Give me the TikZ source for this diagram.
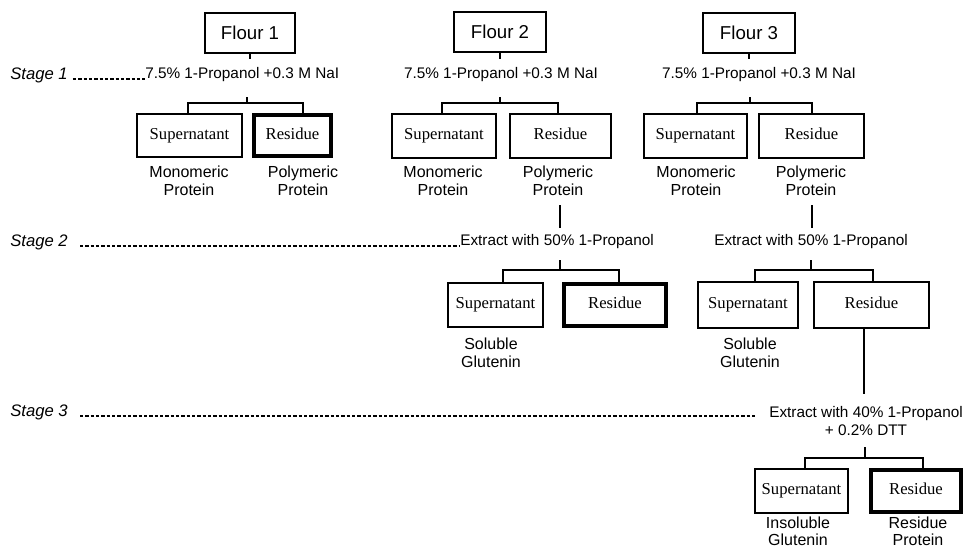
\documentclass[tikz,border=0pt]{standalone}
\usepackage{fontspec}
\setmainfont{Liberation Serif}
\setsansfont{Liberation Sans}
\usetikzlibrary{fit,calc}
\begin{document}
\begin{tikzpicture}[x=0.75pt,y=-0.75pt,
 box/.style={draw, line width=0.9pt, inner sep=0pt},
 thickbox/.style={box, line width=3pt},
 boxtxt/.style={font=\rmfamily\fontsize{12.5}{14}\selectfont, inner sep=0pt, text height=8.5pt, text depth=2.7pt},
 flourtxt/.style={font=\sffamily\fontsize{14}{16}\selectfont, inner sep=0pt, text height=10pt, text depth=0pt},
 proc/.style={font=\sffamily\fontsize{11.5}{13.5}\selectfont, inner sep=0pt, align=center},
 lab/.style={font=\sffamily\fontsize{12}{13.5}\selectfont, align=center, inner sep=0pt},
 stagelab/.style={font=\sffamily\itshape\fontsize{12.5}{14}\selectfont, anchor=west, inner sep=0pt},
 conn/.style={line width=1pt},
 dashline/.style={line width=1pt, dash pattern=on 2.5pt off 1.5pt}]
\useasboundingbox[fill=white] (0,0) rectangle (969,551);

% ---------- flours ----------
\node[box, fit={(205,13)(295,53)}, label={[flourtxt]center:Flour 1}] (f1) {};
\node[box, fit={(454,12)(546,52)}, label={[flourtxt]center:Flour 2}] (f2) {};
\node[box, fit={(703,13)(795,53)}, label={[flourtxt]center:Flour 3}] (f3) {};

% ---------- stage labels ----------
\node[stagelab] (st1) at (10,75) {Stage 1};
\node[stagelab] (st2) at (10,242) {Stage 2};
\node[stagelab] (st3) at (10,412) {Stage 3};

% ---------- stage texts ----------
\node[proc, anchor=west] (e1) at (145,75) {7.5\% 1-Propanol +0.3 M NaI};
\node[proc] (e2) at (501,75) {7.5\% 1-Propanol +0.3 M NaI};
\node[proc] (e3) at (759,75) {7.5\% 1-Propanol +0.3 M NaI};
\node[proc] (e4) at (557,242) {Extract with 50\% 1-Propanol};
\node[proc] (e5) at (811,242) {Extract with 50\% 1-Propanol};
\node[proc] (e6) at (866,421) {Extract with 40\% 1-Propanol\\+ 0.2\% DTT};

% dashed leaders
\draw[dashline] (st1.east) ++(5,4) coordinate (d1a) -- (d1a -| e1.west);
\draw[dashline] (80,246) coordinate (d2a) -- (d2a -| e4.west);
\draw[dashline] (80,416) coordinate (d3a) -- (757,416) coordinate (d3b);

% ---------- stage 1 boxes ----------
\node[box, fit={(137,114)(242,157)}, label={[boxtxt]center:Supernatant}] (s1) {};
\node[thickbox, fit={(254,115)(331,156)}, label={[boxtxt]center:Residue}] (r1) {};
\node[box, fit={(392,114)(496,158)}, label={[boxtxt]center:Supernatant}] (s2) {};
\node[box, fit={(510,114)(611,158)}, label={[boxtxt]center:Residue}] (r2) {};
\node[box, fit={(644,114)(747,158)}, label={[boxtxt]center:Supernatant}] (s3) {};
\node[box, fit={(759,114)(864,158)}, label={[boxtxt]center:Residue}] (r3) {};

\node[lab] (m1) at (189,181) {Monomeric\\Protein};
\node[lab] (p1) at (303,181) {Polymeric\\Protein};
\node[lab] (m2) at (443,181) {Monomeric\\Protein};
\node[lab] (p2) at (558,181) {Polymeric\\Protein};
\node[lab] (m3) at (696,181) {Monomeric\\Protein};
\node[lab] (p3) at (811,181) {Polymeric\\Protein};

% ---------- stage 2 boxes ----------
\node[box, fit={(448,283)(543,327)}, label={[boxtxt]center:Supernatant}] (s4) {};
\node[thickbox, fit={(564,284)(666,326)}, label={[boxtxt]center:Residue}] (r4) {};
\node[box, fit={(698,282)(798,328)}, label={[boxtxt]center:Supernatant}] (s5) {};
\node[box, fit={(814,282)(929,328)}, label={[boxtxt]center:Residue}] (r5) {};
\node[lab] (g4) at (491,353) {Soluble\\Glutenin};
\node[lab] (g5) at (750,353) {Soluble\\Glutenin};

% ---------- stage 3 boxes ----------
\node[box, fit={(755,469)(848,513)}, label={[boxtxt]center:Supernatant}] (s6) {};
\node[thickbox, fit={(871,470)(961,512)}, label={[boxtxt]center:Residue}] (r6) {};
\node[lab, font=\sffamily\fontsize{12}{12.5}\selectfont] (g6) at (798,531) {Insoluble\\Glutenin};
\node[lab, font=\sffamily\fontsize{12}{12.5}\selectfont] (g7) at (918,531) {Residue\\Protein};

% ---------- connectors ----------
\coordinate (f1t) at (250,59);
\coordinate (f2t) at (500,59);
\coordinate (f3t) at (749,59);
\draw[conn] (f1.south) -- (f1t);
\draw[conn] (f2.south) -- (f2t);
\draw[conn] (f3.south) -- (f3t);

% stage-1 brackets
\coordinate (k1) at (247,97);  \coordinate (bl1) at (188,103); \coordinate (br1) at (303,103);
\coordinate (k2) at (500,97);  \coordinate (bl2) at (442,103); \coordinate (br2) at (558,103);
\coordinate (k3) at (750,97);  \coordinate (bl3) at (697,103); \coordinate (br3) at (812,103);
\foreach \i/\s/\r in {1/s1/r1,2/s2/r2,3/s3/r3}{
  \draw[conn] (k\i) -- (k\i |- bl\i);
  \draw[conn] (\s.north -| bl\i) -- (bl\i) -- (br\i) -- (\r.north -| br\i);
}

% from polymeric protein to stage 2
\coordinate (v2a) at (560,205); \coordinate (v2b) at (560,228);
\coordinate (v3a) at (812,205); \coordinate (v3b) at (812,228);
\draw[conn] (v2a) -- (v2b);
\draw[conn] (v3a) -- (v3b);

% stage-2 brackets
\coordinate (k4) at (560,260); \coordinate (bl4) at (503,270); \coordinate (br4) at (619,270);
\coordinate (k5) at (811,260); \coordinate (bl5) at (755,270); \coordinate (br5) at (873,270);
\foreach \i/\s/\r in {4/s4/r4,5/s5/r5}{
  \draw[conn] (k\i) -- (k\i |- bl\i);
  \draw[conn] (\s.north -| bl\i) -- (bl\i) -- (br\i) -- (\r.north -| br\i);
}

% residue to stage 3
\coordinate (v6) at (864,394);
\draw[conn] (r5.south -| v6) -- (v6);

% stage-3 bracket
\coordinate (k6) at (865,447); \coordinate (bl6) at (805,458); \coordinate (br6) at (923,458);
\draw[conn] (k6) -- (k6 |- bl6);
\draw[conn] (s6.north -| bl6) -- (bl6) -- (br6) -- (r6.north -| br6);
\end{tikzpicture}
\end{document}
